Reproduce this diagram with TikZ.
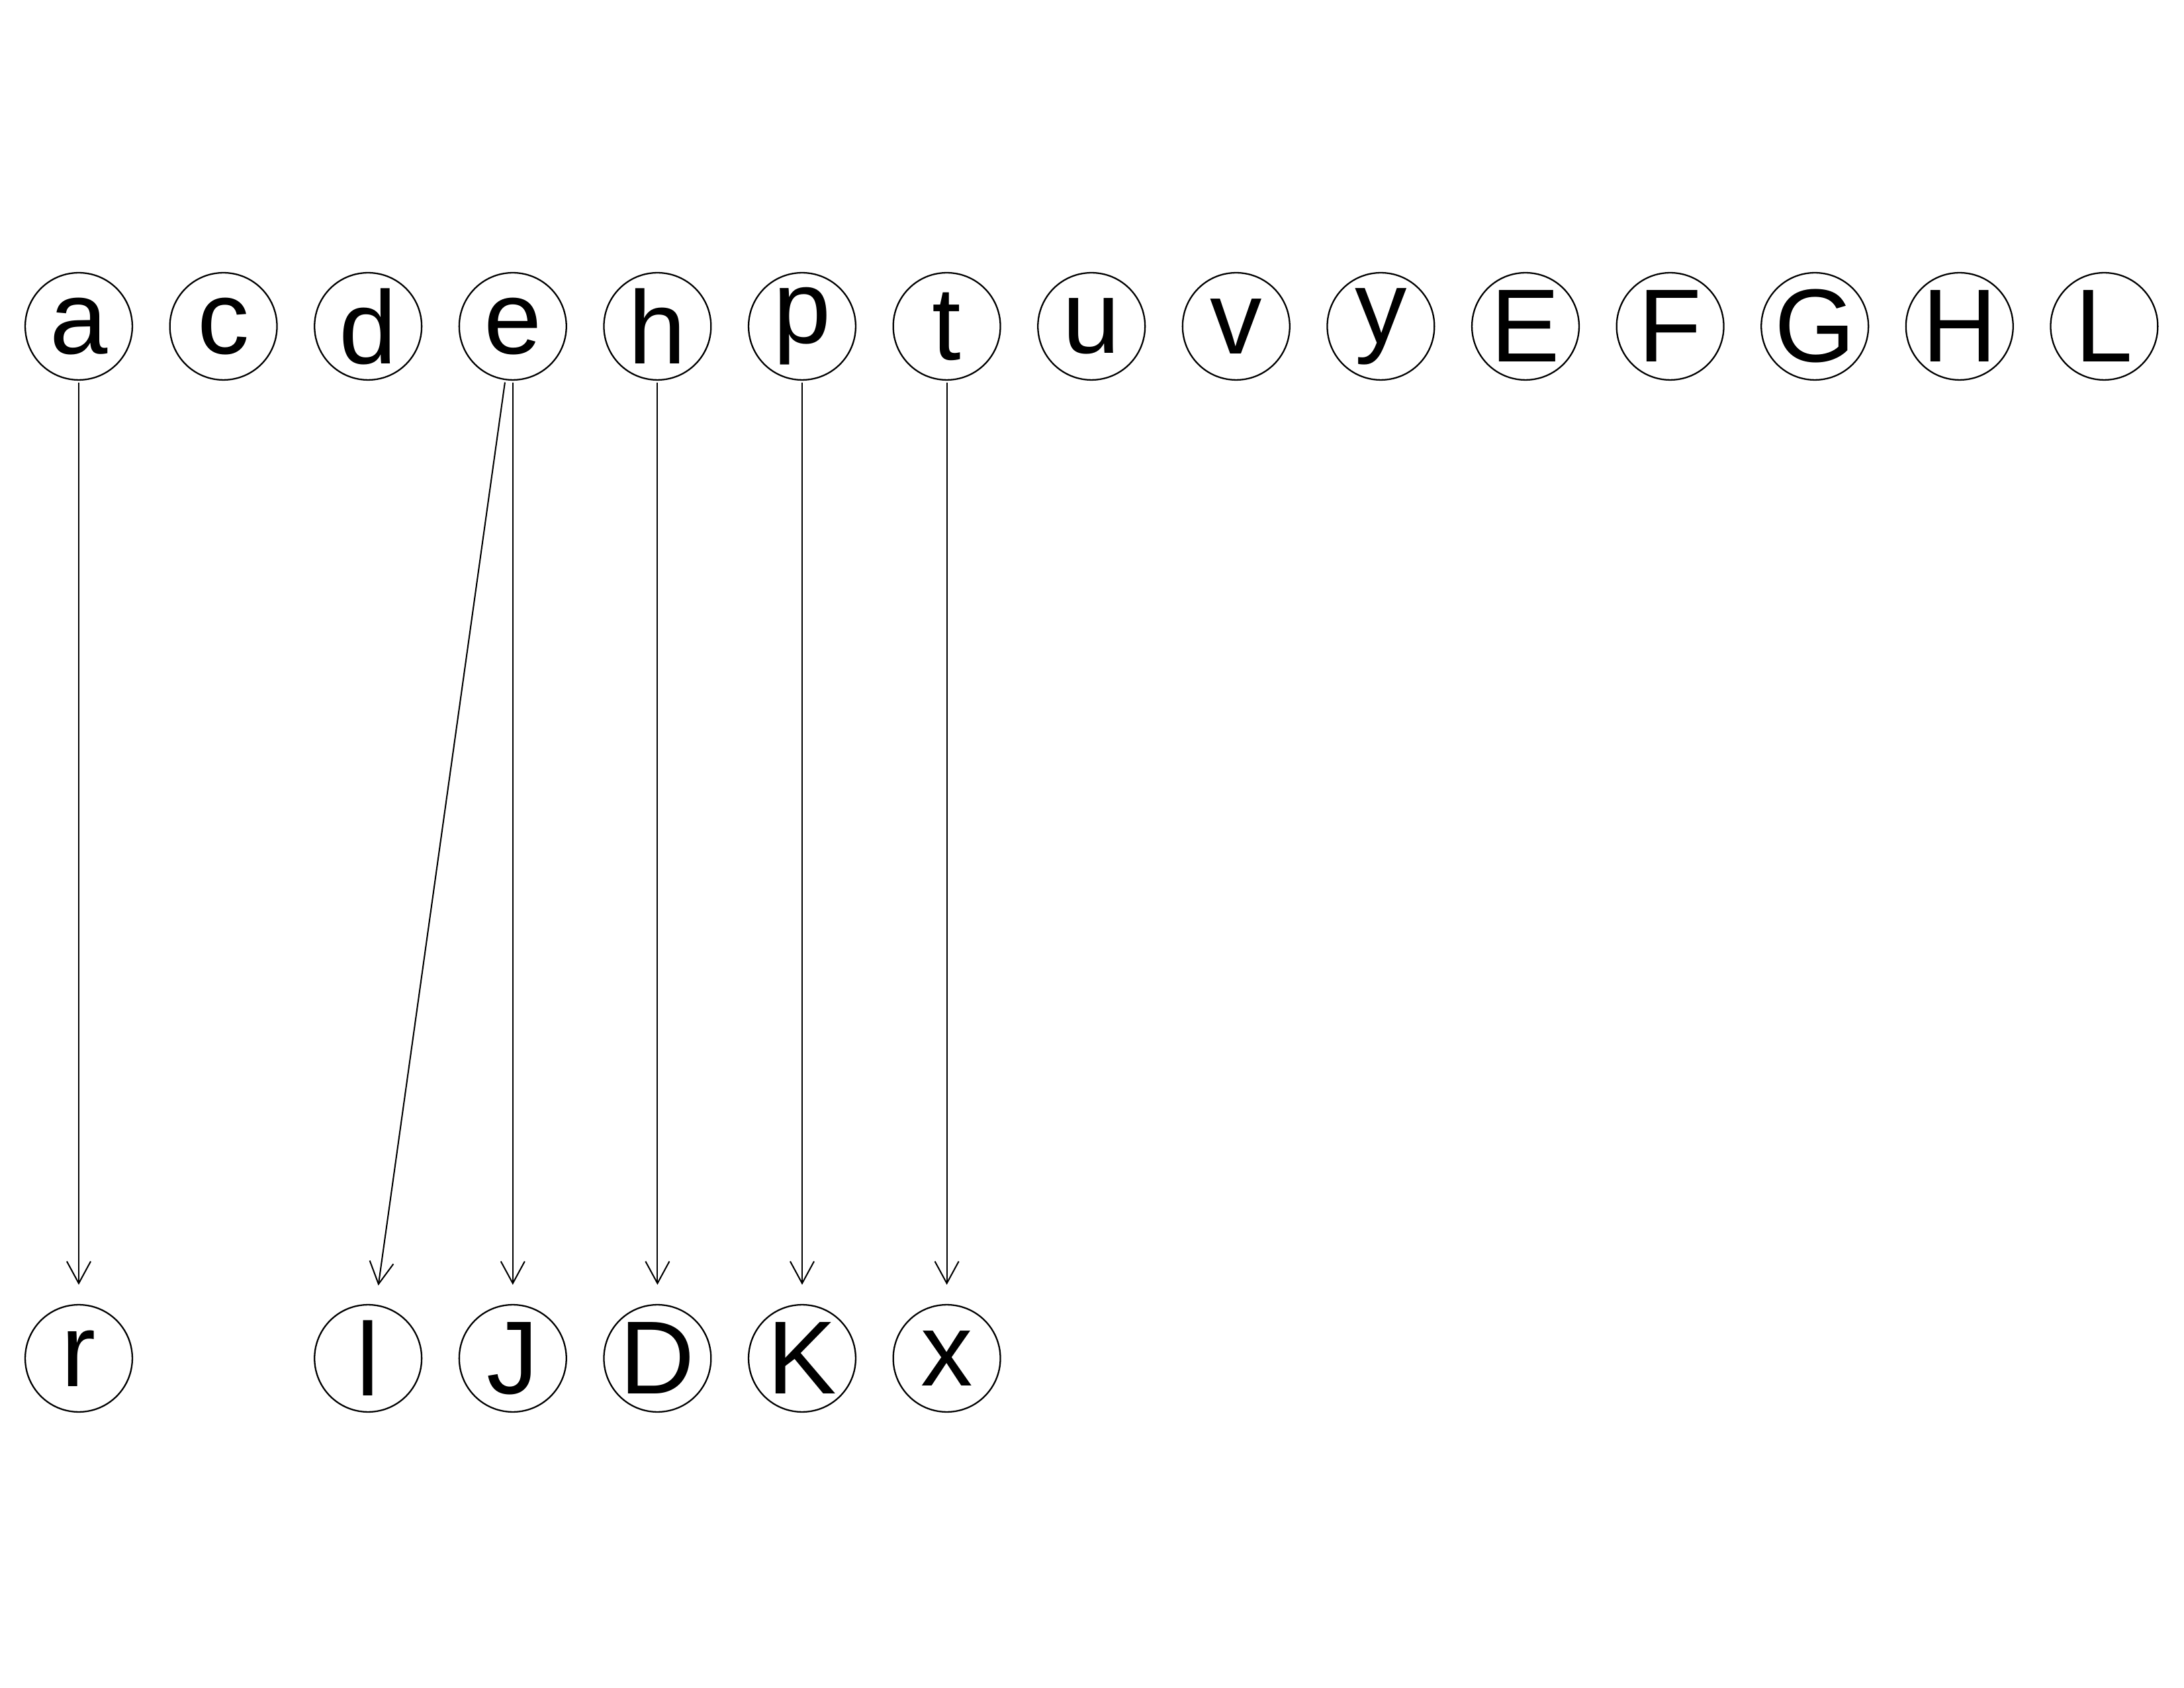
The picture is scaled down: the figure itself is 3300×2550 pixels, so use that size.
\documentclass[tikz,border=0pt]{standalone}
\usepackage{fontspec}
\setmainfont{Liberation Sans}
\usetikzlibrary{arrows.meta}
\tikzset{
  vtx/.style={circle, draw=black, line width=0.55pt, minimum size=39pt, inner sep=0pt,
    label={[font=\fontsize{37.8}{40}\selectfont, inner sep=0pt]center:#1}},
  edg/.style={line width=0.5pt, draw=black, shorten <=0.8pt, shorten >=7pt,
    -{Straight Barb[length=8pt, width=8.7pt, line width=0.5pt]}}
}
\begin{document}
\begin{tikzpicture}[x=0.2409pt, y=-0.2409pt]
\useasboundingbox (0,0) rectangle (3300,2550);
\def\st{218.6}
% top row
\node[vtx=a] (a) at (119,493) {};
\node[vtx=c] (c) at (119+1*\st,493) {};
\node[vtx=d] (d) at (119+2*\st,493) {};
\node[vtx=e] (e) at (119+3*\st,493) {};
\node[vtx=h] (h) at (119+4*\st,493) {};
\node[vtx=p] (p) at (119+5*\st,493) {};
\node[vtx=t] (t) at (119+6*\st,493) {};
\node[vtx=u] (u) at (119+7*\st,493) {};
\node[vtx=v] (v) at (119+8*\st,493) {};
\node[vtx=y] (y) at (119+9*\st,493) {};
\node[vtx=E] (E) at (119+10*\st,493) {};
\node[vtx=F] (F) at (119+11*\st,493) {};
\node[vtx=G] (G) at (119+12*\st,493) {};
\node[vtx=H] (H) at (119+13*\st,493) {};
\node[vtx=L] (L) at (119+14*\st,493) {};
% bottom row
\node[vtx=r] (r) at (119,2052) {};
\node[vtx=l] (l) at (119+2*\st,2052) {};
\node[vtx=J] (J) at (119+3*\st,2052) {};
\node[vtx=D] (D) at (119+4*\st,2052) {};
\node[vtx=K] (K) at (119+5*\st,2052) {};
\node[vtx=x] (x) at (119+6*\st,2052) {};
% edges
\draw[edg] (a) -- (r);
\draw[edg] (e) -- (l);
\draw[edg] (e) -- (J);
\draw[edg] (h) -- (D);
\draw[edg] (p) -- (K);
\draw[edg] (t) -- (x);
\end{tikzpicture}
\end{document}
